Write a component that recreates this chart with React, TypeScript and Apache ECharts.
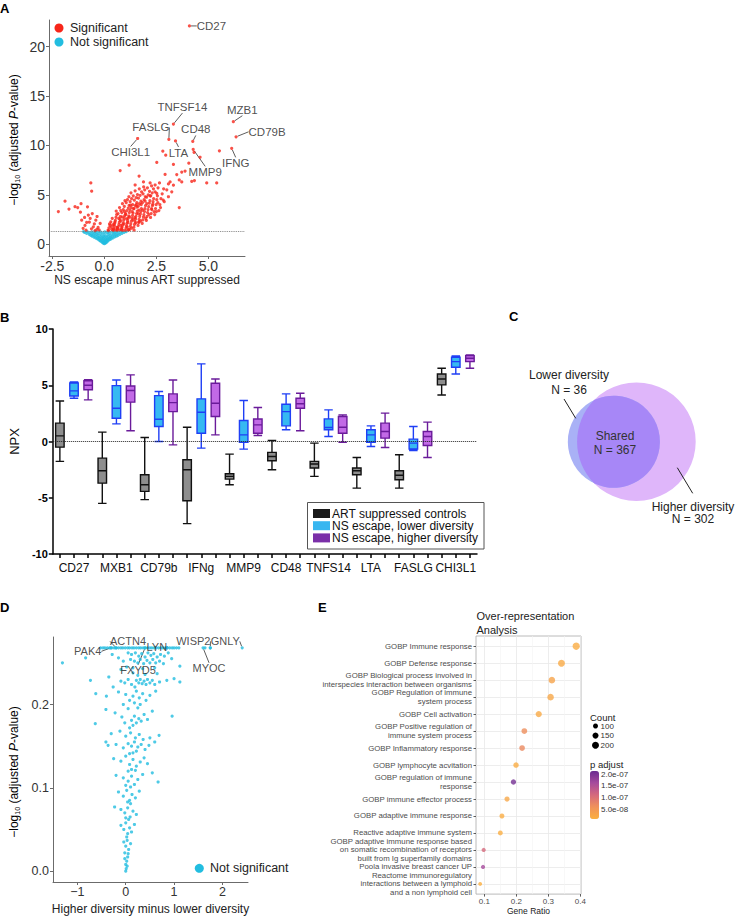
import React, { useEffect, useRef } from 'react';
import * as echarts from 'echarts';

const FONT = '"Liberation Sans", Arial, Helvetica, sans-serif';

// ---------------- Panel A : volcano (NS escape minus ART suppressed) ----------------
const aSigNeg: number[][] = [
  [-2.21, 3.3], [-1.89, 4.35], [-1.7, 3.55], [-1.41, 3.8], [-1.28, 3.7], [-1.12, 4.1], [-1.15, 3.24],
  [-0.81, 3.78], [-0.65, 6.2], [-0.61, 5.36], [-0.77, 2.94], [-0.72, 2.23], [-0.41, 2.43], [-0.53, 1.76],
  [-0.36, 1.49], [-0.93, 1.89], [-1.09, 2.43], [-0.88, 1.42], [-0.62, 1.55], [-0.48, 2.05], [-0.3, 1.7],
  [-0.68, 2.6], [-0.85, 2.2], [-1.02, 1.6], [-0.45, 1.38], [-0.25, 1.45], [-0.58, 3.1], [-0.95, 2.7],
  [-0.2, 2.1], [-0.35, 2.8],
];
const aSigPos: number[][] = [
  [0.18, 1.42], [0.22, 1.65], [0.27, 1.9], [0.31, 2.25], [0.35, 1.5], [0.38, 2.6], [0.25, 2.05], [0.33, 1.75], [0.2, 1.38], [0.4, 1.95],
  [0.42, 1.4], [0.45, 1.62], [0.48, 1.85], [0.5, 2.12], [0.53, 2.4], [0.56, 2.72], [0.59, 3.0], [0.44, 1.5], [0.51, 2.25], [0.57, 3.35], [0.47, 2.0], [0.55, 1.45], [0.6, 1.7],
  [0.62, 1.4], [0.64, 1.55], [0.67, 1.78], [0.7, 2.0], [0.72, 2.22], [0.75, 2.5], [0.77, 2.8], [0.66, 3.1], [0.79, 3.4], [0.73, 3.7], [0.63, 1.66], [0.78, 2.35], [0.69, 2.6], [0.74, 1.45], [0.8, 1.9],
  [0.82, 1.45], [0.85, 1.7], [0.88, 1.92], [0.9, 2.15], [0.93, 2.42], [0.95, 2.65], [0.98, 2.9], [0.84, 3.2], [0.91, 3.5], [0.96, 3.82], [0.87, 4.1], [0.99, 4.4], [0.83, 1.6], [0.94, 2.05], [0.86, 2.75], [0.97, 3.3], [0.89, 1.4],
  [1.01, 1.4], [1.04, 1.62], [1.06, 1.85], [1.09, 2.1], [1.12, 2.35], [1.14, 2.6], [1.17, 2.85], [1.02, 3.1], [1.08, 3.4], [1.15, 3.65], [1.19, 3.92], [1.05, 4.2], [1.11, 4.5], [1.18, 4.8], [1.13, 2.2], [1.03, 3.0], [1.16, 1.5], [1.1, 1.75], [1.07, 2.55], [1.2, 3.2],
  [1.22, 1.5], [1.25, 1.8], [1.27, 2.05], [1.3, 2.32], [1.33, 2.6], [1.35, 2.9], [1.38, 3.15], [1.23, 3.45], [1.29, 3.7], [1.36, 4.0], [1.24, 4.3], [1.31, 4.6], [1.39, 4.9], [1.28, 5.2], [1.34, 3.3], [1.37, 2.45], [1.21, 2.75], [1.32, 1.62], [1.26, 3.95], [1.4, 3.6],
  [1.42, 1.72], [1.45, 2.0], [1.47, 2.3], [1.5, 2.55], [1.52, 2.82], [1.55, 3.1], [1.58, 3.35], [1.43, 3.6], [1.49, 3.9], [1.56, 4.2], [1.44, 4.45], [1.53, 4.72], [1.59, 5.02], [1.48, 5.4], [1.57, 3.75], [1.51, 2.15], [1.46, 2.68], [1.54, 4.0],
  [1.62, 1.9], [1.65, 2.2], [1.67, 2.5], [1.7, 2.8], [1.73, 3.05], [1.75, 3.3], [1.78, 3.6], [1.63, 3.85], [1.69, 4.1], [1.76, 4.35], [1.64, 4.65], [1.72, 4.95], [1.79, 5.3], [1.68, 5.6], [1.74, 2.35], [1.66, 3.45], [1.77, 4.0],
  [1.82, 2.1], [1.85, 2.45], [1.88, 2.75], [1.9, 3.0], [1.93, 3.3], [1.95, 3.6], [1.98, 3.9], [1.83, 4.2], [1.91, 4.5], [1.97, 4.8], [1.86, 5.1], [1.94, 5.5], [1.89, 5.8], [1.99, 2.6], [1.84, 3.45], [1.96, 4.35],
  [2.02, 2.4], [2.05, 2.8], [2.08, 3.2], [2.1, 3.5], [2.13, 3.8], [2.16, 4.15], [2.19, 4.4], [2.03, 4.75], [2.11, 5.0], [2.17, 5.35], [2.07, 5.7], [2.14, 3.0], [2.2, 4.9],
  [2.22, 2.7], [2.25, 3.1], [2.28, 3.5], [2.31, 3.9], [2.34, 4.3], [2.37, 4.6], [2.23, 4.9], [2.3, 5.2], [2.36, 5.6], [2.27, 5.9], [2.39, 3.3], [2.33, 4.05],
  [2.42, 3.0], [2.46, 3.6], [2.49, 4.0], [2.52, 4.5], [2.55, 4.9], [2.44, 5.3], [2.58, 5.7], [2.5, 3.3], [2.57, 4.2],
  [2.62, 3.4], [2.67, 4.0], [2.72, 4.6], [2.78, 5.1], [2.85, 5.6], [2.7, 3.7], [2.88, 4.3],
];
const aSigOut: number[][] = [
  [1.19, 8.0], [0.76, 7.45], [2.52, 8.27], [2.81, 9.42], [2.95, 9.01], [3.32, 8.07], [3.72, 6.3], [3.88, 7.4],
  [4.06, 8.2], [4.31, 9.3], [4.6, 8.8], [4.2, 6.35], [4.33, 6.44], [4.92, 6.2], [5.4, 6.2], [5.53, 9.45],
  [3.6, 3.7], [2.65, 6.2], [3.08, 6.1], [3.32, 5.97], [3.48, 7.05], [3.72, 7.3], [3.6, 6.5], [2.92, 7.06],
  [3.16, 6.3], [2.2, 6.2], [1.88, 6.3], [1.67, 6.9], [1.48, 5.99], [2.44, 5.99], [2.52, 5.14], [2.83, 4.47],
  [3.08, 4.8], [3.24, 5.3], [3.0, 5.5], [2.04, 4.1], [2.27, 3.6], [1.63, 3.1], [1.43, 1.42], [1.67, 2.26], [1.16, 1.42],
];
const aNotSig: number[][] = [
  [0.0, 0.05], [-0.04, 0.1], [0.04, 0.1], [0.08, 0.15], [-0.08, 0.16], [0.0, 0.2], [0.12, 0.22], [-0.12, 0.24], [0.05, 0.27], [-0.03, 0.3],
  [-0.18, 0.3], [0.16, 0.32], [-0.22, 0.38], [-0.1, 0.38], [0.1, 0.4], [0.22, 0.42], [0.0, 0.44], [-0.28, 0.46], [0.28, 0.48], [-0.15, 0.5], [0.15, 0.5], [0.06, 0.52], [-0.06, 0.55],
  [-0.35, 0.55], [0.34, 0.56], [-0.25, 0.6], [0.24, 0.6], [-0.42, 0.64], [0.42, 0.64], [-0.12, 0.66], [0.12, 0.66], [0.0, 0.68], [-0.3, 0.7], [0.3, 0.72], [-0.5, 0.72], [0.5, 0.74], [-0.2, 0.76], [0.2, 0.77], [-0.58, 0.8], [0.58, 0.8], [-0.05, 0.78], [0.07, 0.8],
  [-0.42, 0.84], [0.4, 0.84], [-0.65, 0.88], [0.66, 0.9], [-0.3, 0.9], [0.3, 0.9], [-0.52, 0.94], [0.52, 0.95], [-0.15, 0.95], [0.17, 0.96], [-0.72, 0.98], [0.75, 1.0], [-0.38, 1.0], [0.42, 1.02], [0.0, 0.98], [-0.6, 1.04], [0.6, 1.05],
  [-0.85, 1.08], [0.85, 1.1], [-0.25, 1.08], [0.25, 1.1], [-0.48, 1.12], [0.5, 1.14], [-0.72, 1.16], [0.7, 1.17], [-0.95, 1.2], [0.95, 1.2], [-0.1, 1.15], [0.12, 1.18], [-0.35, 1.2], [0.36, 1.22], [-0.6, 1.24], [0.6, 1.25], [-0.82, 1.26], [0.82, 1.27], [1.05, 1.26], [-1.0, 1.28], [-0.2, 1.26], [0.2, 1.27], [0.02, 1.25], [-0.45, 1.28], [0.45, 1.28],
];
const aLabelNames = ['CD27', 'MZB1', 'CD79B', 'IFNG', 'TNFSF14', 'FASLG', 'CD48', 'LTA', 'MMP9', 'CHI3L1'];
const aLabelX = [4.09, 6.2, 6.33, 6.12, 3.32, 3.1, 4.25, 3.42, 4.27, 1.6];
const aLabelY = [22.1, 12.4, 10.87, 9.7, 12.16, 10.6, 10.4, 10.45, 9.6, 10.7];
const aLabelOffset = [[22, 0], [9, -12], [31, -5], [4, 15], [9, -17], [-18, -12], [3, -12], [3, 12], [12, 23], [-7, 14]];
const aXTicks = [-2.5, 0, 2.5, 5];
const aYTicks = [0, 5, 10, 15, 20];
const aThreshold = 1.3;

// ---------------- Panel B : NPX box plots ----------------
const bGenes = ['CD27', 'MXB1', 'CD79b', 'IFNg', 'MMP9', 'CD48', 'TNFS14', 'LTA', 'FASLG', 'CHI3L1'];
const bGroups = ['ART suppressed controls', 'NS escape, lower diversity', 'NS escape, higher diversity'];
// [min, Q1, median, Q3, max]
const bArt = [
  [-1.77, -0.5, 0.5, 1.63, 3.6], [-5.5, -3.7, -2.6, -1.48, 0.83], [-5.17, -4.43, -3.84, -2.95, 0.36],
  [-7.3, -5.26, -2.51, -1.62, 1.27], [-3.84, -3.34, -3.1, -2.87, -1.12], [-2.51, -1.71, -1.33, -0.97, 0.09],
  [-3.1, -2.36, -2.0, -1.77, -0.14], [-4.14, -2.95, -2.6, -2.36, -1.42], [-4.14, -3.4, -3.0, -2.6, -1.18],
  [4.14, 5.03, 5.56, 6.0, 6.51],
];
const bLower = [
  [3.85, 4.05, 4.5, 5.2, 5.3], [1.57, 2.07, 2.96, 4.97, 5.47], [0.0, 1.33, 1.98, 4.08, 4.44],
  [-0.59, 0.74, 2.6, 3.79, 6.9], [-0.68, -0.08, 0.59, 1.87, 3.64], [1.04, 1.39, 2.66, 3.31, 4.23],
  [0.44, 1.04, 1.24, 2.01, 2.81], [-0.44, -0.06, 0.59, 1.04, 1.39], [-0.8, -0.67, -0.14, 0.21, 1.33],
  [6.0, 6.6, 7.1, 7.49, 7.6],
];
const bHigher = [
  [3.7, 4.6, 5.0, 5.4, 5.5], [0.95, 3.5, 4.53, 4.94, 5.92], [-0.3, 2.66, 3.46, 4.23, 5.47],
  [0.59, 2.22, 3.4, 5.18, 5.56], [0.54, 0.74, 1.48, 2.0, 3.02], [0.95, 2.96, 3.35, 3.85, 4.29],
  [-0.06, 0.74, 1.27, 2.22, 2.37], [-0.53, 0.3, 0.89, 1.63, 2.52], [-1.42, -0.35, 0.44, 0.89, 1.72],
  [6.51, 7.1, 7.4, 7.63, 7.69],
];
const bFill = ['#8e8e8e', '#36b9f2', '#c26ae6'];
const bStroke = ['#111111', '#1f3ff5', '#6a1b9a'];
const bLegendColor = ['#1a1a1a', '#38b6f0', '#7a2fa8'];

// ---------------- Panel C : Venn ----------------
const vennLower = 36;
const vennShared = 367;
const vennHigher = 302;

// ---------------- Panel D : volcano (higher minus lower diversity) ----------------
const dPoints: number[][] = [
  [-0.52, 0.268], [-0.47, 0.268], [-0.43, 0.268], [-0.38, 0.268], [-0.33, 0.268], [-0.29, 0.268], [-0.24, 0.268], [-0.2, 0.268],
  [-0.15, 0.268], [-0.1, 0.268], [-0.06, 0.268], [-0.01, 0.268], [0.04, 0.268], [0.08, 0.268], [0.13, 0.268], [0.17, 0.268],
  [0.22, 0.268], [0.27, 0.268], [0.31, 0.268], [0.36, 0.268], [0.4, 0.268], [0.45, 0.268], [0.5, 0.268], [0.54, 0.268],
  [0.59, 0.268], [0.63, 0.268], [0.68, 0.268], [0.73, 0.268], [0.77, 0.268], [0.82, 0.268], [0.86, 0.268], [0.91, 0.268],
  [0.96, 0.268], [1.0, 0.268], [1.05, 0.268], [1.1, 0.268],
  [0.05, 0.262], [0.12, 0.26], [0.2, 0.262], [0.27, 0.258], [0.33, 0.261], [0.4, 0.257], [0.46, 0.262], [0.52, 0.259],
  [0.58, 0.261], [0.65, 0.257], [0.72, 0.26], [0.8, 0.258], [0.88, 0.262], [0.1, 0.254], [0.18, 0.252], [0.25, 0.25],
  [0.3, 0.254], [0.37, 0.249], [0.44, 0.253], [0.5, 0.25], [0.56, 0.254], [0.62, 0.25], [0.7, 0.252], [0.78, 0.249],
  [-0.05, 0.252], [-0.15, 0.256], [-0.28, 0.26], [0.95, 0.255], [0.02, 0.245], [0.15, 0.244], [0.35, 0.243], [0.6, 0.244], [-0.1, 0.242],
  [-1.31, 0.25], [-0.83, 0.256], [1.12, 0.246], [1.64, 0.268], [1.75, 0.268],
  [-0.73, 0.229], [-0.26, 0.221], [-0.1, 0.228], [-0.02, 0.226], [0.05, 0.23], [0.12, 0.224], [0.19, 0.221], [0.22, 0.229],
  [0.27, 0.226], [0.3, 0.23], [0.34, 0.225], [0.38, 0.228], [0.42, 0.224], [0.45, 0.23], [0.5, 0.226], [0.55, 0.229],
  [0.6, 0.224], [0.7, 0.227], [0.85, 0.229], [1.0, 0.231], [1.12, 0.227], [0.25, 0.235], [0.4, 0.236], [0.15, 0.238], [-0.35, 0.233], [0.65, 0.237],
  [-0.62, 0.213], [-0.4, 0.21], [-0.15, 0.215], [0.0, 0.212], [0.08, 0.205], [0.15, 0.21], [0.22, 0.216], [0.28, 0.208],
  [0.35, 0.213], [0.42, 0.205], [0.5, 0.211], [0.62, 0.216], [0.18, 0.202], [0.3, 0.2], [-0.05, 0.2],
  [-0.41, 0.194], [-0.63, 0.177], [-0.22, 0.19], [-0.08, 0.185], [0.05, 0.195], [0.12, 0.181], [0.18, 0.186], [0.22, 0.178],
  [0.27, 0.183], [0.32, 0.18], [0.38, 0.188], [0.45, 0.182], [0.55, 0.192], [0.96, 0.186], [0.15, 0.175], [0.08, 0.172], [-0.02, 0.178], [0.25, 0.196],
  [-0.3, 0.165], [-0.12, 0.168], [0.0, 0.162], [0.1, 0.166], [0.2, 0.16], [0.28, 0.164], [0.36, 0.158], [0.69, 0.163],
  [0.5, 0.16], [-0.41, 0.155], [-0.365, 0.151], [-0.2, 0.152], [-0.05, 0.148], [0.05, 0.153], [0.12, 0.15], [0.18, 0.155],
  [0.25, 0.149], [0.32, 0.152], [0.4, 0.146], [0.48, 0.151], [0.6, 0.155], [0.15, 0.142], [0.22, 0.144], [0.08, 0.141],
  [-0.25, 0.135], [-0.1, 0.132], [0.0, 0.138], [0.08, 0.128], [0.15, 0.134], [0.22, 0.126], [0.3, 0.131], [0.38, 0.136],
  [0.45, 0.129], [0.12, 0.122], [0.05, 0.12], [0.2, 0.121],
  [-0.2, 0.115], [-0.05, 0.112], [0.05, 0.108], [0.12, 0.114], [0.18, 0.104], [0.25, 0.11], [0.55, 0.118], [0.67, 0.107], [0.35, 0.116], [0.1, 0.101], [0.0, 0.103],
  [-0.15, 0.095], [-0.05, 0.09], [0.02, 0.097], [0.08, 0.085], [0.13, 0.092], [0.2, 0.088], [0.28, 0.096], [0.1, 0.081], [0.04, 0.083],
  [-0.23, 0.077], [-0.1, 0.074], [-0.02, 0.07], [0.04, 0.076], [0.09, 0.065], [0.15, 0.072], [0.22, 0.068], [0.06, 0.062], [0.0, 0.064],
  [-0.1, 0.055], [-0.04, 0.05], [0.0, 0.058], [0.04, 0.045], [0.08, 0.052], [0.12, 0.047], [0.18, 0.056], [0.02, 0.041],
  [-0.04, 0.035], [0.0, 0.03], [0.03, 0.037], [0.06, 0.026], [0.1, 0.033], [-0.02, 0.022], [0.05, 0.021],
  [-0.02, 0.015], [0.0, 0.008], [0.02, 0.012], [0.04, 0.017], [0.01, 0.003], [0.03, 0.006], [0.0, 0.0],
];
const dLabelNames = ['PAK4', 'ACTN4', 'LYN', 'FXYD5', 'WISP2', 'GNLY', 'MYOC'];
const dLabelX = [-0.31, -0.2, 0.85, 0.4, 1.75, 2.41, 1.6];
const dLabelY = [0.268, 0.268, 0.268, 0.268, 0.268, 0.268, 0.268];
const dLabelOffset = [[-23, 3.5], [12, -6.5], [-10, -0.5], [-7, 22.5], [-17, -6.5], [-17, -6.5], [6, 20.5]];
const dXTicks = [-1, 0, 1, 2];
const dYTicks = [0, 0.1, 0.2];

// ---------------- Panel E : over-representation analysis ----------------
const eTerms = [
  'GOBP Immune response',
  'GOBP Defense response',
  'GOBP Biological process involved in\ninterspecies interaction between organisms',
  'GOBP Regulation of immune\nsystem process',
  'GOBP Cell activation',
  'GOBP Positive regulation of\nimmune system process',
  'GOBP Inflammatory response',
  'GOBP lymphocyte acvitation',
  'GOBP regulation of immune\nresponse',
  'GOBP immune effector process',
  'GOBP adaptive immune response',
  'Reactive adaptive immune system',
  'GOBP adaptive immune response based\non somatic recombination of receptors\nbuilt from Ig superfamily domains',
  'Poola invasive breast cancer UP',
  'Reactome immunoregulatory\ninteractions between a lymphoid\nand a non lymphoid cell',
];
const eRatio = [0.387, 0.341, 0.311, 0.307, 0.27, 0.225, 0.218, 0.199, 0.191, 0.171, 0.155, 0.15, 0.098, 0.096, 0.087];
const eCount = [215, 200, 180, 178, 165, 140, 135, 125, 120, 110, 100, 98, 60, 58, 45];
const ePadj = [1.5e-8, 2.0e-8, 3.0e-8, 2.5e-8, 2.0e-8, 6.5e-8, 7.0e-8, 1.5e-8, 2.05e-7, 2.5e-8, 1.5e-8, 1.2e-8, 1.12e-7, 1.63e-7, 1.0e-8];
const eXTicks = [0.1, 0.2, 0.3, 0.4];
const eXMinor = [0.15, 0.25, 0.35];
const eCountLegend = [100, 150, 200];
const ePLegend = [2.0e-7, 1.5e-7, 1.0e-7, 5.0e-8];
const ePMin = 9e-9;
const ePMax = 2.14e-7;
const ePColors = ['#fbb040', '#f0925a', '#d5697c', '#a64b9c', '#6b2c91'];

const eSize = (count: number) => 3 + count / 50;

const RED = '#f7261a';
const CYAN = '#22bde0';

function lensPath(cx2: number, cy: number, r2: number) {
  const k = r2 / Math.sqrt(vennShared + vennHigher);
  const r1 = k * Math.sqrt(vennShared + vennLower);
  const target = (Math.PI * r1 * r1 * vennShared) / (vennShared + vennLower);
  const area = (d: number) => {
    const a1 = r1 * r1 * Math.acos((d * d + r1 * r1 - r2 * r2) / (2 * d * r1));
    const a2 = r2 * r2 * Math.acos((d * d + r2 * r2 - r1 * r1) / (2 * d * r2));
    const t = 0.5 * Math.sqrt(Math.max(0, (-d + r1 + r2) * (d + r1 - r2) * (d - r1 + r2) * (d + r1 + r2)));
    return a1 + a2 - t;
  };
  let lo = r2 - r1 + 1e-6;
  let hi = r1 + r2 - 1e-6;
  for (let i = 0; i < 60; i++) {
    const mid = (lo + hi) / 2;
    if (area(mid) > target) lo = mid;
    else hi = mid;
  }
  const d = (lo + hi) / 2;
  const cx1 = cx2 - d;
  const xi = (d * d + r1 * r1 - r2 * r2) / (2 * d);
  const h = Math.sqrt(r1 * r1 - xi * xi);
  const px = cx1 + xi;
  const path = `M ${px} ${cy - h} A ${r1} ${r1} 0 ${xi < 0 ? 1 : 0} 1 ${px} ${cy + h} A ${r2} ${r2} 0 ${xi > d ? 1 : 0} 1 ${px} ${cy - h} Z`;
  return { path, cx1, r1 };
}

function buildOption() {
  const axisGrey = '#6b6b6b';

  // Panel B box data
  const bCats: string[] = [];
  const bBoxes: any[] = [];
  bGenes.forEach((g, gi) => {
    [bArt, bLower, bHigher].forEach((arr, k) => {
      bCats.push(`${g}|${k}`);
      bBoxes.push({
        value: arr[gi],
        itemStyle: { color: bFill[k], borderColor: bStroke[k], borderWidth: 1.4 },
      });
    });
  });

  // Venn
  const vCy = 441.7;
  const vCx2 = 636.4;
  const vR2 = 59.3;
  const lens = lensPath(vCx2, vCy, vR2);
  echarts.graphic.registerShape('vennLens', (echarts.graphic as any).extendPath(lens.path, {}));

  const yTitleRich = {
    a: { fontSize: 12, fontFamily: FONT, color: '#222', lineHeight: 14 },
    s: { fontSize: 7, fontFamily: FONT, color: '#222', lineHeight: 14, verticalAlign: 'bottom' },
    i: { fontSize: 12, fontFamily: FONT, color: '#222', lineHeight: 14, fontStyle: 'italic' },
  };
  const yTitleText = '{a|\u2212log}{s|10}{a| (adjusted }{i|P}{a|-value)}';

  const letter = (t: string, x: number, y: number) => ({
    type: 'text',
    x,
    y,
    style: { text: t, fontSize: 13, fontWeight: 900, fontFamily: FONT, fill: '#000', align: 'left', verticalAlign: 'top' },
  });
  const txt = (t: string, x: number, y: number, size: number, align = 'left', color = '#222') => ({
    type: 'text',
    x,
    y,
    style: { text: t, fontSize: size, fontFamily: FONT, fill: color, align, verticalAlign: 'middle' },
  });

  const pToY = (p: number) => 771 + ((ePMax - p) / (ePMax - ePMin)) * 48;

  const graphic: any[] = [
    letter('A', 0, 2),
    letter('B', 0, 311),
    letter('C', 509, 310),
    letter('D', 0, 601),
    letter('E', 318, 601),
    // A legend
    { type: 'circle', shape: { cx: 59, cy: 28, r: 4.5 }, style: { fill: RED } },
    txt('Significant', 70, 28, 12.5),
    { type: 'circle', shape: { cx: 59, cy: 42, r: 4.5 }, style: { fill: CYAN } },
    txt('Not significant', 70, 42, 12.5),
    // A / D y titles
    {
      type: 'text', x: 14, y: 140, rotation: Math.PI / 2,
      style: { text: yTitleText, rich: yTitleRich, align: 'center', verticalAlign: 'middle' },
    },
    {
      type: 'text', x: 14, y: 772, rotation: Math.PI / 2,
      style: { text: yTitleText, rich: yTitleRich, align: 'center', verticalAlign: 'middle' },
    },
    // D legend
    { type: 'circle', shape: { cx: 199.3, cy: 868.3, r: 4.5 }, style: { fill: CYAN } },
    txt('Not significant', 210, 868.3, 12.5),
    // B legend
    { type: 'rect', shape: { x: 307.5, y: 502.5, width: 176.5, height: 46.5 }, style: { fill: '#fff', stroke: '#555', lineWidth: 1 } },
    ...bGroups.flatMap((g, k) => [
      { type: 'rect', shape: { x: 313, y: 509 + k * 12.2, width: 17, height: 9 }, style: { fill: bLegendColor[k] } },
      txt(g, 332, 513.5 + k * 12.2, 12, 'left', '#111'),
    ]),
    // C Venn
    { type: 'circle', shape: { cx: vCx2, cy: vCy, r: vR2 }, style: { fill: '#dfb6fa' } },
    { type: 'circle', shape: { cx: lens.cx1, cy: vCy, r: lens.r1 }, style: { fill: '#a9b1f6' } },
    { type: 'vennLens', style: { fill: '#a787f7' } },
    txt('Lower diversity', 569, 375, 12, 'center', '#222'),
    txt(`N = ${vennLower}`, 569, 390, 12, 'center', '#222'),
    { type: 'line', shape: { x1: 564, y1: 399, x2: 575.7, y2: 418.3 }, style: { stroke: '#222', lineWidth: 1 } },
    txt('Shared', 615, 435.7, 12, 'center', '#333'),
    txt(`N = ${vennShared}`, 615, 450, 12, 'center', '#333'),
    { type: 'line', shape: { x1: 677.3, y1: 467.7, x2: 692.7, y2: 493.3 }, style: { stroke: '#222', lineWidth: 1 } },
    txt('Higher diversity', 693, 506.7, 12, 'center', '#222'),
    txt(`N = ${vennHigher}`, 693, 519, 12, 'center', '#222'),
    // E title and legends
    {
      type: 'text', x: 476.5, y: 623,
      style: { text: 'Over-representation\nAnalysis', fontSize: 11, lineHeight: 13.3, fontFamily: FONT, fill: '#222', align: 'left', verticalAlign: 'middle' },
    },
    txt('Count', 590, 717, 9.5),
    ...eCountLegend.flatMap((c, i) => [
      { type: 'circle', shape: { cx: 595.5, cy: 726 + i * 9.6, r: eSize(c) / 2 }, style: { fill: '#000' } },
      txt(String(c), 600.5, 726 + i * 9.6, 8, 'left', '#333'),
    ]),
    txt('p adjust', 590, 764, 9.5),
    ...ePLegend.map((p) => txt(p.toExponential(1).replace(/e([+-])(\d)$/, 'e$10$2'), 601, pToY(p), 8, 'left', '#333')),
  ];

  const noZero = (extra: any) => ({ onZero: false, ...extra });

  return {
    animation: false,
    backgroundColor: '#fff',
    textStyle: { fontFamily: FONT },
    grid: [
      { left: 49, top: 20, width: 196, height: 236 },
      { left: 49, top: 329, width: 428, height: 225 },
      { left: 53, top: 637, width: 195, height: 245 },
      { left: 476, top: 636, width: 105, height: 260, show: true, borderColor: '#a8a8a8', borderWidth: 0.8, backgroundColor: '#fff' },
    ],
    xAxis: [
      {
        type: 'value', gridIndex: 0, min: -2.66, max: 6.76,
        axisLine: noZero({ lineStyle: { color: axisGrey, width: 1 } }),
        axisTick: { customValues: aXTicks, length: 3, lineStyle: { color: axisGrey } },
        axisLabel: { customValues: aXTicks, formatter: (v: number) => v.toFixed(1), fontSize: 14, color: '#333', margin: 3 },
        splitLine: { show: false },
        name: 'NS escape minus ART suppressed', nameLocation: 'middle', nameGap: 17,
        nameTextStyle: { fontSize: 12, color: '#222', verticalAlign: 'top' },
      },
      {
        type: 'category', gridIndex: 1, data: bCats,
        axisLine: noZero({ lineStyle: { color: '#000', width: 1.5 } }),
        axisTick: { show: true, alignWithLabel: true, interval: 0, length: 4, lineStyle: { color: '#000', width: 1.5 } },
        axisLabel: {
          interval: (i: number) => i % 3 === 1,
          formatter: (v: string) => v.split('|')[0],
          fontSize: 12, color: '#111', margin: 8,
        },
      },
      {
        type: 'value', gridIndex: 2, min: -1.505, max: 2.53,
        axisLine: noZero({ lineStyle: { color: axisGrey, width: 1 } }),
        axisTick: { customValues: dXTicks, length: 3, lineStyle: { color: axisGrey } },
        axisLabel: {
          customValues: dXTicks,
          formatter: (v: number) => (v < 0 ? '\u2212' + Math.abs(v) : String(v)),
          fontSize: 12.5, color: '#333', margin: 3,
        },
        splitLine: { show: false },
        name: 'Higher diversity minus lower diversity', nameLocation: 'middle', nameGap: 21,
        nameTextStyle: { fontSize: 12, color: '#222', verticalAlign: 'top' },
      },
      {
        type: 'value', gridIndex: 3, min: 0.074, max: 0.402,
        axisLine: noZero({ show: false }),
        axisTick: { customValues: eXTicks, length: 2.5, lineStyle: { color: '#333', width: 0.8 } },
        axisLabel: { customValues: eXTicks, formatter: (v: number) => String(+v.toFixed(1)), fontSize: 8, color: '#4d4d4d', margin: 3 },
        splitLine: { show: true, lineStyle: { color: '#e8e8e8', width: 0.8 } },
        name: 'Gene Ratio', nameLocation: 'middle', nameGap: 11,
        nameTextStyle: { fontSize: 8.5, color: '#222', verticalAlign: 'top' },
      },
      {
        type: 'value', gridIndex: 3, min: 0.074, max: 0.402,
        axisLine: noZero({ show: false }),
        axisTick: { show: false, customValues: eXMinor },
        axisLabel: { show: false, customValues: eXMinor },
        splitLine: { show: true, lineStyle: { color: '#f3f3f3', width: 0.6 } },
      },
    ],
    yAxis: [
      {
        type: 'value', gridIndex: 0, min: -1.2, max: 22.7,
        axisLine: noZero({ show: true, lineStyle: { color: axisGrey, width: 1 } }),
        axisTick: { show: true, customValues: aYTicks, length: 3, lineStyle: { color: axisGrey } },
        axisLabel: { customValues: aYTicks, fontSize: 14, color: '#333', margin: 4 },
        splitLine: { show: false },
      },
      {
        type: 'value', gridIndex: 1, min: -10, max: 10, interval: 5,
        axisLine: noZero({ show: true, lineStyle: { color: '#000', width: 1.5 } }),
        axisTick: { show: true, length: 4, lineStyle: { color: '#000', width: 1.5 } },
        axisLabel: { fontSize: 11, fontWeight: 'bold', color: '#000', margin: 5 },
        splitLine: { show: false },
        name: 'NPX', nameLocation: 'middle', nameGap: 30,
        nameTextStyle: { fontSize: 13, color: '#111' },
      },
      {
        type: 'value', gridIndex: 2, min: -0.013, max: 0.281,
        axisLine: noZero({ show: true, lineStyle: { color: axisGrey, width: 1 } }),
        axisTick: { show: true, customValues: dYTicks, length: 3, lineStyle: { color: axisGrey } },
        axisLabel: { customValues: dYTicks, formatter: (v: number) => v.toFixed(1), fontSize: 12.5, color: '#333', margin: 4 },
        splitLine: { show: false },
      },
      {
        type: 'value', gridIndex: 3, inverse: true, min: -0.6, max: 14.6,
        axisLine: noZero({ show: false }),
        axisTick: { show: true, customValues: eTerms.map((_, i) => i), length: 2.5, lineStyle: { color: '#333', width: 0.8 } },
        axisLabel: {
          customValues: eTerms.map((_, i) => i),
          formatter: (v: number) => eTerms[Math.round(v)] ?? '',
          fontSize: 7.8, lineHeight: 8.4, color: '#4d4d4d', margin: 4, align: 'right',
          hideOverlap: false,
        },
        splitLine: { show: true, lineStyle: { color: '#e8e8e8', width: 0.8 } },
      },
    ],
    visualMap: [
      {
        type: 'continuous', seriesIndex: 6, dimension: 2, min: ePMin, max: ePMax,
        inRange: { color: ePColors }, left: 590, top: 771, itemWidth: 9, itemHeight: 48,
        calculable: false, show: true, padding: 0, orient: 'vertical', text: null,
      },
    ],
    series: [
      {
        type: 'scatter', xAxisIndex: 0, yAxisIndex: 0, data: aNotSig, symbolSize: 3.2,
        itemStyle: { color: CYAN }, silent: true,
        markLine: {
          silent: true, symbol: 'none', label: { show: false },
          lineStyle: { type: 'dotted', color: '#777', width: 0.9 },
          data: [{ yAxis: aThreshold }],
        },
      },
      {
        type: 'scatter', xAxisIndex: 0, yAxisIndex: 0, data: [...aSigNeg, ...aSigPos, ...aSigOut], symbolSize: 3.2,
        itemStyle: { color: RED }, silent: true,
      },
      {
        type: 'scatter', xAxisIndex: 0, yAxisIndex: 0, symbolSize: 3.2, itemStyle: { color: RED }, silent: true,
        data: aLabelNames.map((n, i) => ({ name: n, value: [aLabelX[i], aLabelY[i]] })),
        label: { show: true, position: 'inside', formatter: '{b}', fontSize: 11.5, color: '#222', fontFamily: FONT },
        labelLine: { show: true, lineStyle: { color: '#333', width: 0.8 } },
        labelLayout: (p: any) => ({ dx: aLabelOffset[p.dataIndex][0], dy: aLabelOffset[p.dataIndex][1] }),
      },
      {
        type: 'boxplot', xAxisIndex: 1, yAxisIndex: 1, data: bBoxes, boxWidth: [8.5, 8.5], silent: true,
        markLine: {
          silent: true, symbol: 'none', label: { show: false },
          lineStyle: { type: 'dotted', color: '#222', width: 1 },
          data: [{ yAxis: 0 }],
        },
      },
      {
        type: 'scatter', xAxisIndex: 2, yAxisIndex: 2, data: dPoints, symbolSize: 3.2,
        itemStyle: { color: CYAN }, silent: true,
      },
      {
        type: 'scatter', xAxisIndex: 2, yAxisIndex: 2, symbolSize: 3.2, itemStyle: { color: CYAN }, silent: true,
        data: dLabelNames.map((n, i) => ({ name: n, value: [dLabelX[i], dLabelY[i]] })),
        label: { show: true, position: 'inside', formatter: '{b}', fontSize: 11, color: '#222', fontFamily: FONT },
        labelLine: { show: true, lineStyle: { color: '#333', width: 0.8 } },
        labelLayout: (p: any) => ({ dx: dLabelOffset[p.dataIndex][0], dy: dLabelOffset[p.dataIndex][1] }),
      },
      {
        type: 'scatter', xAxisIndex: 3, yAxisIndex: 3, silent: true,
        data: eRatio.map((r, i) => [r, i, ePadj[i], eCount[i]]),
        symbolSize: (v: number[]) => eSize(v[3]),
      },
    ],
    graphic,
  };
}

export default function App() {
  const ref = useRef<HTMLDivElement>(null);
  useEffect(() => {
    document.body.style.margin = '0';
    if (!ref.current) return;
    const chart = echarts.init(ref.current, null, { renderer: 'svg' });
    chart.setOption(buildOption() as any);
    return () => chart.dispose();
  }, []);
  return <div ref={ref} style={{ width: 735, height: 916 }} />;
}
